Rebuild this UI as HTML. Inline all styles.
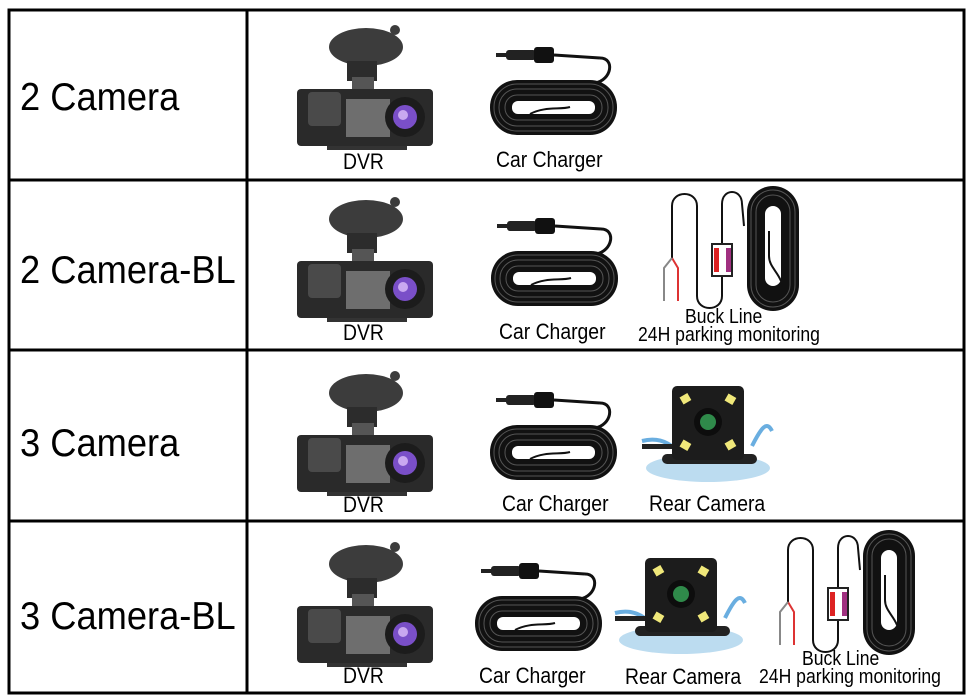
<!DOCTYPE html>
<html><head><meta charset="utf-8"><style>
html,body{margin:0;padding:0;background:#fff;}
#c{position:relative;width:970px;height:700px;overflow:hidden;background:#fff;}
svg{position:absolute;left:0;top:0;}
.t{position:absolute;font-family:"Liberation Sans",Arial,sans-serif;color:#000;white-space:nowrap;transform-origin:0 0;line-height:1;}
.big{font-size:39px;transform:scaleX(0.93);}
.s{font-size:22px;transform:scaleX(0.88);}
</style></head><body><div id="c">
<svg width="970" height="700" viewBox="0 0 970 700">
<defs>
<g id="dvr">
  <ellipse cx="69" cy="32" rx="37" ry="19" fill="#3c3c3c"/>
  <circle cx="98" cy="15" r="5" fill="#3c3c3c"/>
  <rect x="50" y="46" width="30" height="20" fill="#2c2c2c"/>
  <rect x="55" y="62" width="22" height="16" fill="#555"/>
  <rect x="0" y="74" width="136" height="57" rx="4" fill="#2a2a2a"/>
  <rect x="11" y="77" width="33" height="34" rx="4" fill="#4a4a4a"/>
  <rect x="49" y="84" width="44" height="38" fill="#6e6e6e"/>
  <circle cx="108" cy="102" r="20" fill="#1c1c1c"/>
  <circle cx="108" cy="102" r="12" fill="#7a4fc8"/>
  <circle cx="106" cy="100" r="5" fill="#c9a8f0"/>
  <rect x="30" y="131" width="80" height="4" fill="#333"/>
</g>
<g id="chg">
  <path d="M110,-22 C125,-22 122,0 105,3" fill="none" stroke="#111" stroke-width="3"/>
  <rect x="6" y="-27" width="10" height="4" fill="#222"/>
  <rect x="16" y="-30" width="30" height="10" rx="3" fill="#222"/>
  <rect x="44" y="-33" width="20" height="16" rx="3" fill="#111"/>
  <path d="M64,-25 L110,-22" stroke="#111" stroke-width="3"/>
  <rect x="0" y="0" width="127" height="55" rx="27" fill="#111"/>
  <rect x="4" y="4" width="119" height="47" rx="23" fill="none" stroke="#555" stroke-width="1"/>
  <rect x="9" y="9" width="109" height="37" rx="18" fill="none" stroke="#555" stroke-width="1"/>
  <rect x="15" y="15" width="97" height="25" rx="12" fill="none" stroke="#555" stroke-width="1"/>
  <rect x="22" y="21" width="83" height="13" rx="6" fill="#fff"/>
  <path d="M40,34 C55,26 70,30 80,27" fill="none" stroke="#111" stroke-width="2"/>
</g>
<g id="buck">
  <path d="M-25,58 L-25,18 C-25,2 -5,2 -5,18 L-3,40" fill="none" stroke="#111" stroke-width="2"/>
  <path d="M-25,90 L-25,110 C-25,126 -50,126 -50,110 L-50,20 C-50,4 -75,4 -75,20 L-75,72" fill="none" stroke="#111" stroke-width="2"/>
  <path d="M-75,72 L-69,82 L-69,115" fill="none" stroke="#d33" stroke-width="2"/>
  <path d="M-75,72 L-83,82 L-83,115" fill="none" stroke="#888" stroke-width="2"/>
  <rect x="-35" y="58" width="20" height="32" fill="#fff" stroke="#222" stroke-width="2"/>
  <rect x="-33" y="62" width="5" height="24" fill="#d22"/>
  <rect x="-21" y="62" width="5" height="24" fill="#a03080"/>
  <rect x="0" y="0" width="52" height="125" rx="26" fill="#111"/>
  <rect x="4" y="4" width="44" height="117" rx="22" fill="none" stroke="#555"/>
  <rect x="9" y="9" width="34" height="107" rx="17" fill="none" stroke="#555"/>
  <rect x="18" y="20" width="16" height="80" rx="8" fill="#fff"/>
  <path d="M22,45 L22,70 C22,80 30,85 34,95" fill="none" stroke="#111" stroke-width="2"/>
</g>
<g id="rcam">
  <ellipse cx="36" cy="82" rx="62" ry="14" fill="#bcdcf0"/>
  <path d="M-30,55 C-10,50 5,60 10,75 M80,60 C90,40 95,35 100,45" fill="none" stroke="#6aaee0" stroke-width="4"/>
  <rect x="-30" y="58" width="40" height="5" fill="#222"/>
  <rect x="-10" y="68" width="95" height="10" rx="5" fill="#222"/>
  <rect x="0" y="0" width="72" height="74" rx="5" fill="#1c1c1c"/>
  <circle cx="36" cy="36" r="14" fill="#0d0d0d"/>
  <circle cx="36" cy="36" r="8" fill="#2f8a4a"/>
  <rect x="9" y="9" width="9" height="8" fill="#f0e87a" transform="rotate(-30 13 13)"/>
  <rect x="54" y="9" width="9" height="8" fill="#f0e87a" transform="rotate(30 58 13)"/>
  <rect x="9" y="55" width="9" height="8" fill="#f0e87a" transform="rotate(30 13 59)"/>
  <rect x="54" y="55" width="9" height="8" fill="#f0e87a" transform="rotate(-30 58 59)"/>
</g>
</defs>
<!-- table -->
<g fill="none" stroke="#000" stroke-width="3">
  <rect x="9" y="10" width="955" height="683"/>
  <line x1="247" y1="10" x2="247" y2="693"/>
  <line x1="9" y1="180" x2="964" y2="180"/>
  <line x1="9" y1="350" x2="964" y2="350"/>
  <line x1="9" y1="521" x2="964" y2="521"/>
</g>
<use href="#dvr" transform="translate(297,15)"/>
<use href="#dvr" transform="translate(297,187)"/>
<use href="#dvr" transform="translate(297,361)"/>
<use href="#dvr" transform="translate(297,532)"/>
<use href="#chg" transform="translate(490,80)"/>
<use href="#chg" transform="translate(491,251)"/>
<use href="#chg" transform="translate(490,425)"/>
<use href="#chg" transform="translate(475,596)"/>
<use href="#buck" transform="translate(747,186)"/>
<use href="#buck" transform="translate(863,530)"/>
<use href="#rcam" transform="translate(672,386)"/>
<use href="#rcam" transform="translate(645,558)"/>
</svg>
<div class="t big" style="left:20px;top:78px">2 Camera</div>
<div class="t big" style="left:20px;top:251px">2 Camera-BL</div>
<div class="t big" style="left:20px;top:424px">3 Camera</div>
<div class="t big" style="left:20px;top:597px">3 Camera-BL</div>
<div class="t s" style="left:343px;top:151px">DVR</div>
<div class="t s" style="left:343px;top:322px">DVR</div>
<div class="t s" style="left:343px;top:494px">DVR</div>
<div class="t s" style="left:343px;top:665px">DVR</div>
<div class="t s" style="left:496px;top:149px">Car Charger</div>
<div class="t s" style="left:499px;top:321px">Car Charger</div>
<div class="t s" style="left:502px;top:493px">Car Charger</div>
<div class="t s" style="left:479px;top:665px">Car Charger</div>
<div class="t s" style="left:649px;top:493px">Rear Camera</div>
<div class="t s" style="left:625px;top:666px">Rear Camera</div>
<div class="t s" style="left:685px;top:307px;font-size:20px">Buck Line</div>
<div class="t s" style="left:638px;top:325px;font-size:20px">24H parking monitoring</div>
<div class="t s" style="left:802px;top:649px;font-size:20px">Buck Line</div>
<div class="t s" style="left:759px;top:667px;font-size:20px">24H parking monitoring</div>
</div></body></html>
